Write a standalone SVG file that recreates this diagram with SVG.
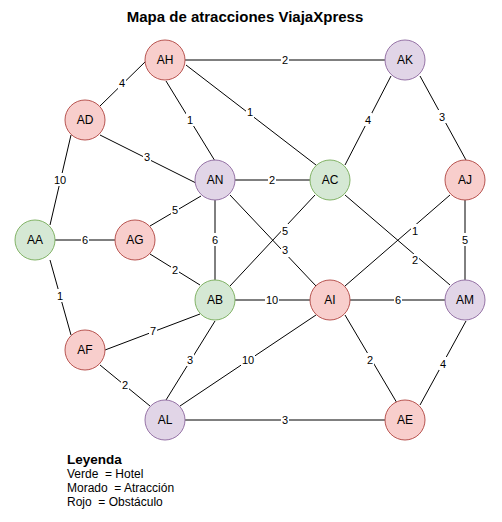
<svg xmlns="http://www.w3.org/2000/svg" width="502" height="522" viewBox="0 0 502 522">
<style>
.e{stroke:#000;stroke-width:1;fill:none}
.lb{font-family:"Liberation Sans",Arial,sans-serif;font-size:11px;fill:#000;text-anchor:middle;dominant-baseline:central}
.bg{fill:#fff}
.n circle{stroke-width:1}
.r circle{fill:#f8cecc;stroke:#b85450}
.g circle{fill:#d5e8d4;stroke:#82b366}
.p circle{fill:#e1d5e7;stroke:#9673a6}
.n text{font-family:"Liberation Sans",Arial,sans-serif;font-size:12px;fill:#000;text-anchor:middle;dominant-baseline:central}
.t{font-family:"Liberation Sans",Arial,sans-serif;font-size:15px;font-weight:bold;fill:#000;text-anchor:middle}
.lg{font-family:"Liberation Sans",Arial,sans-serif;font-size:12px;fill:#000;white-space:pre}
.lh{font-family:"Liberation Sans",Arial,sans-serif;font-size:13.5px;font-weight:bold;fill:#000}
</style>
<rect width="502" height="522" fill="#fff"/>
<text class="t" x="245" y="22">Mapa de atracciones ViajaXpress</text>
<g id="connectors">
<line class="e" x1="146" y1="61" x2="100" y2="106"/>
<line class="e" x1="185" y1="60" x2="385" y2="60"/>
<line class="e" x1="186" y1="65" x2="316" y2="165"/>
<line class="e" x1="166" y1="81" x2="215" y2="161"/>
<line class="e" x1="100" y1="135" x2="196" y2="183"/>
<line class="e" x1="71" y1="135" x2="50" y2="225"/>
<line class="e" x1="235" y1="180" x2="310" y2="180"/>
<line class="e" x1="391" y1="76" x2="345" y2="165"/>
<line class="e" x1="420" y1="76" x2="466" y2="160"/>
<line class="e" x1="55" y1="240" x2="115" y2="240"/>
<line class="e" x1="150" y1="226" x2="201" y2="196"/>
<line class="e" x1="215" y1="200" x2="215" y2="280"/>
<line class="e" x1="230" y1="195" x2="316" y2="286"/>
<line class="e" x1="150" y1="254" x2="200" y2="285"/>
<line class="e" x1="315" y1="195" x2="230" y2="286"/>
<line class="e" x1="345" y1="195" x2="450" y2="285"/>
<line class="e" x1="450" y1="195" x2="345" y2="286"/>
<line class="e" x1="465" y1="200" x2="465" y2="280"/>
<line class="e" x1="50" y1="260" x2="71" y2="335"/>
<line class="e" x1="235" y1="300" x2="310" y2="300"/>
<line class="e" x1="350" y1="300" x2="445" y2="300"/>
<line class="e" x1="105" y1="350" x2="200" y2="314"/>
<line class="e" x1="215" y1="321" x2="166" y2="400"/>
<line class="e" x1="316" y1="315" x2="180" y2="406"/>
<line class="e" x1="100" y1="365" x2="150" y2="406"/>
<line class="e" x1="345" y1="315" x2="397" y2="403"/>
<line class="e" x1="466" y1="321" x2="420" y2="405"/>
<line class="e" x1="185" y1="420" x2="385" y2="420"/>
<g id="edge-labels">
<rect class="bg" x="118" y="76" width="8" height="13"/><text class="lb" x="122" y="83">4</text>
<rect class="bg" x="281" y="53" width="8" height="13"/><text class="lb" x="285" y="60">2</text>
<rect class="bg" x="246" y="105" width="8" height="13"/><text class="lb" x="250" y="112">1</text>
<rect class="bg" x="186" y="113" width="8" height="13"/><text class="lb" x="190" y="120">1</text>
<rect class="bg" x="143" y="150" width="8" height="13"/><text class="lb" x="147" y="157">3</text>
<rect class="bg" x="53" y="173" width="14" height="13"/><text class="lb" x="60" y="180">10</text>
<rect class="bg" x="268" y="173" width="8" height="13"/><text class="lb" x="272" y="180">2</text>
<rect class="bg" x="364" y="113" width="8" height="13"/><text class="lb" x="368" y="120">4</text>
<rect class="bg" x="438" y="110" width="8" height="13"/><text class="lb" x="442" y="117">3</text>
<rect class="bg" x="81" y="233" width="8" height="13"/><text class="lb" x="85" y="240">6</text>
<rect class="bg" x="171" y="203" width="8" height="13"/><text class="lb" x="175" y="210">5</text>
<rect class="bg" x="211" y="233" width="8" height="13"/><text class="lb" x="215" y="240">6</text>
<rect class="bg" x="281" y="244" width="8" height="13"/><text class="lb" x="285" y="250">3</text>
<rect class="bg" x="171" y="263" width="8" height="13"/><text class="lb" x="175" y="270">2</text>
<rect class="bg" x="281" y="224" width="8" height="13"/><text class="lb" x="285" y="231">5</text>
<rect class="bg" x="411" y="254" width="8" height="13"/><text class="lb" x="415" y="260">2</text>
<rect class="bg" x="411" y="224" width="8" height="13"/><text class="lb" x="415" y="231">1</text>
<rect class="bg" x="461" y="233" width="8" height="13"/><text class="lb" x="465" y="240">5</text>
<rect class="bg" x="56" y="289" width="8" height="13"/><text class="lb" x="60" y="296">1</text>
<rect class="bg" x="265" y="293" width="14" height="13"/><text class="lb" x="272" y="300">10</text>
<rect class="bg" x="394" y="293" width="8" height="13"/><text class="lb" x="398" y="300">6</text>
<rect class="bg" x="149" y="324" width="8" height="13"/><text class="lb" x="153" y="331">7</text>
<rect class="bg" x="186" y="353" width="8" height="13"/><text class="lb" x="190" y="360">3</text>
<rect class="bg" x="241" y="353" width="14" height="13"/><text class="lb" x="248" y="360">10</text>
<rect class="bg" x="121" y="378" width="8" height="13"/><text class="lb" x="125" y="385">2</text>
<rect class="bg" x="366" y="353" width="8" height="13"/><text class="lb" x="370" y="360">2</text>
<rect class="bg" x="439" y="357" width="8" height="13"/><text class="lb" x="443" y="364">4</text>
<rect class="bg" x="281" y="413" width="8" height="13"/><text class="lb" x="285" y="420">3</text>
</g>
</g>
<g id="AH" class="n r"><circle cx="165" cy="60" r="20"/><text x="165" y="60">AH</text></g>
<g id="AK" class="n p"><circle cx="405" cy="60" r="20"/><text x="405" y="60">AK</text></g>
<g id="AD" class="n r"><circle cx="85" cy="120" r="20"/><text x="85" y="120">AD</text></g>
<g id="AN" class="n p"><circle cx="215" cy="180" r="20"/><text x="215" y="180">AN</text></g>
<g id="AC" class="n g"><circle cx="330" cy="180" r="20"/><text x="330" y="180">AC</text></g>
<g id="AJ" class="n r"><circle cx="465" cy="180" r="20"/><text x="465" y="180">AJ</text></g>
<g id="AA" class="n g"><circle cx="35" cy="240" r="20"/><text x="35" y="240">AA</text></g>
<g id="AG" class="n r"><circle cx="135" cy="240" r="20"/><text x="135" y="240">AG</text></g>
<g id="AB" class="n g"><circle cx="215" cy="300" r="20"/><text x="215" y="300">AB</text></g>
<g id="AI" class="n r"><circle cx="330" cy="300" r="20"/><text x="330" y="300">AI</text></g>
<g id="AM" class="n p"><circle cx="465" cy="300" r="20"/><text x="465" y="300">AM</text></g>
<g id="AF" class="n r"><circle cx="85" cy="350" r="20"/><text x="85" y="350">AF</text></g>
<g id="AL" class="n p"><circle cx="165" cy="420" r="20"/><text x="165" y="420">AL</text></g>
<g id="AE" class="n r"><circle cx="405" cy="420" r="20"/><text x="405" y="420">AE</text></g>
<g id="legend">
<text class="lh" x="67" y="464">Leyenda</text>
<text class="lg" x="67" y="478" xml:space="preserve">Verde  = Hotel</text>
<text class="lg" x="67" y="492" xml:space="preserve">Morado  = Atracción</text>
<text class="lg" x="67" y="506" xml:space="preserve">Rojo  = Obstáculo</text>
</g>
</svg>
